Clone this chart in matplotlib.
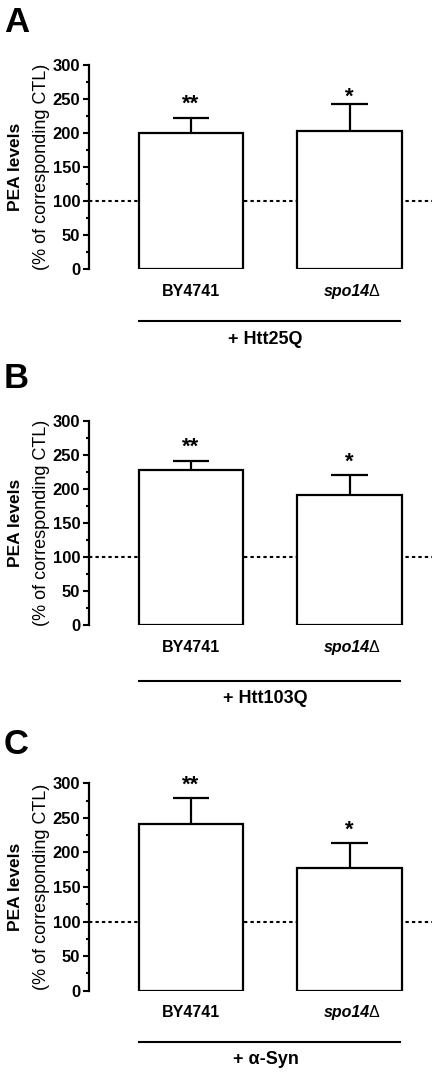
import matplotlib
matplotlib.use("Agg")
import matplotlib.pyplot as plt
import matplotlib.transforms as mtransforms

plt.rcParams['font.family'] = ['Liberation Sans', 'DejaVu Sans']

# ---- data ----
strains = ["BY4741", "spo14"]
panel_letters = ["A", "B", "C"]
group_labels = ["+ Htt25Q", "+ Htt103Q", "+ \u03b1-Syn"]
means_A = [200, 203]
sems_A = [21.6, 39]
means_B = [228, 191.5]
sems_B = [13, 29.5]
means_C = [241, 177]
sems_C = [38, 37]
stars = ["**", "*"]
star_y_A = [253, 263]
star_y_B = [272, 250]
star_y_C = [307, 242]
yticks = [0, 50, 100, 150, 200, 250, 300]
ref_level = 100

W, H = 436, 1075
fig = plt.figure(figsize=(W / 100, H / 100), dpi=100)

# layout in pixels: (axes top, axes bottom, line offset px, text offset px, letter baseline)
layouts = [
    (65.0, 269.0, 52, 71, 32),
    (420.7, 625.3, 56, 73, 388),
    (783.3, 990.7, 51, 69, 754),
]
all_means = [means_A, means_B, means_C]
all_sems = [sems_A, sems_B, sems_C]
all_stars = [star_y_A, star_y_B, star_y_C]

ax_left, ax_right = 89, 432
x = [0, 1]
bar_w = 0.66
cap_half = 0.114
xlim = (-0.6435, 1.52)

for i in range(3):
    top, bot, loff, toff, lbase = layouts[i]
    ax = fig.add_axes([ax_left / W, 1 - bot / H, (ax_right - ax_left) / W, (bot - top) / H])
    means, sems, sy = all_means[i], all_sems[i], all_stars[i]

    ax.axhline(ref_level, color='black', lw=1.5, ls=(0, (1.6, 1.5)), zorder=1)
    ax.bar(x, means, width=bar_w, color='white', edgecolor='black', linewidth=1.6, zorder=2)
    tops = [m + s for m, s in zip(means, sems)]
    ax.vlines(x, means, tops, color='black', lw=1.6, zorder=3)
    ax.hlines(tops, [xi - cap_half for xi in x], [xi + cap_half for xi in x],
              color='black', lw=1.6, zorder=3)

    ax.set_xlim(*xlim)
    ax.set_ylim(0, 300)
    for s in ['top', 'right', 'bottom']:
        ax.spines[s].set_visible(False)
    ax.spines['left'].set_linewidth(1.6)
    ax.set_yticks(yticks)
    ax.set_yticks(range(25, 300, 50), minor=True)
    ax.tick_params(axis='y', which='major', length=4.3, width=1.5, pad=2,
                   labelsize=12)
    ax.tick_params(axis='y', which='minor', length=2.4, width=1.5)
    for lab in ax.get_yticklabels():
        lab.set_fontweight('bold')
    ax.set_xticks([])

    # x labels
    ax.annotate(strains[0], xy=(0, 0), xycoords=('data', 'axes fraction'),
                xytext=(0, -10.5), textcoords='offset points', ha='center', va='top',
                fontsize=11.5, fontweight='bold')
    ax.annotate(strains[1], xy=(1, 0), xycoords=('data', 'axes fraction'),
                xytext=(15, -10.5), textcoords='offset points', ha='right', va='top',
                fontsize=11.5, fontweight='bold', fontstyle='italic')
    ax.annotate("\u0394", xy=(1, 0), xycoords=('data', 'axes fraction'),
                xytext=(13.5, -10.5), textcoords='offset points', ha='left', va='top',
                fontsize=11.5, fontweight='normal')

    # stars
    for xi, st, yv in zip(x, stars, sy):
        ax.annotate(st, xy=(xi, yv), xycoords='data', xytext=(0, -9),
                    textcoords='offset points', ha='center', va='baseline',
                    fontsize=16, fontweight='bold', annotation_clip=False)

    # group line and label
    trans = mtransforms.blended_transform_factory(ax.transData, ax.transAxes)
    hpx = bot - top
    ax.plot([-0.328, 1.319], [-loff / hpx, -loff / hpx], color='black', lw=1.5,
            transform=trans, clip_on=False)
    ax.text(0.47, -toff / hpx, group_labels[i], transform=trans, ha='center',
            va='center', fontsize=13, fontweight='bold')

    # y labels
    yc = 1 - (top + bot) / 2 / H
    fig.text(15 / W, yc, "PEA levels", rotation=90, ha='center', va='center',
             fontsize=12.5, fontweight='bold')
    fig.text(42 / W, yc, "(% of corresponding CTL)", rotation=90, ha='center',
             va='center', fontsize=13)

    # panel letter
    fig.text(4 / W, 1 - lbase / H, panel_letters[i], ha='left', va='baseline',
             fontsize=25, fontweight='bold')

fig.savefig("out.png", dpi=100)
